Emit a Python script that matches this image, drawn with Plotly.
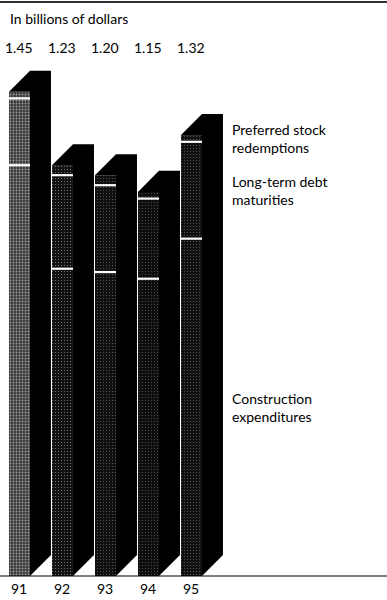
import plotly.graph_objects as go

# Data (billions of dollars)
years = ["91", "92", "93", "94", "95"]
construction = [1.23, 0.92, 0.91, 0.89, 1.01]
debt = [0.20, 0.28, 0.26, 0.24, 0.29]
preferred = [0.02, 0.03, 0.03, 0.02, 0.02]
totals = [1.45, 1.23, 1.20, 1.15, 1.32]

segment_names = ["Construction<br>expenditures",
                 "Long-term debt<br>maturities",
                 "Preferred stock<br>redemptions"]

# Geometry in axis units
W = 0.488          # front-face width (x units)
DX = 0.488         # depth offset along x
DY = 0.063         # depth offset along y (billions)
FONT = "Lato"

xs = list(range(len(years)))
segments = [construction, debt, preferred]

fig = go.Figure()

# Front faces: stacked bars with a light speckle over a dark fill
face = ["#3a3a3a", "#121212", "#101010", "#0e0e0e", "#111111"]
sol = [0.3, 0.1, 0.08, 0.07, 0.08]
base = [0.0] * len(xs)
for seg in segments:
    fig.add_trace(go.Bar(
        x=xs, y=seg, base=base[:], width=W, offset=0,
        marker=dict(color=face, line=dict(width=0),
                    pattern=dict(shape=".", fgcolor="#d0d0d0", fgopacity=0.5,
                                 size=3, solidity=sol, fillmode="overlay")),
        showlegend=False, hoverinfo="skip"))
    base = [b + v for b, v in zip(base, seg)]

# Top and side faces of each block
px, py = [], []
for i, t in zip(xs, totals):
    px += [i, i + DX, i + W + DX, i + W + DX, i + W, i + W, i, None]
    py += [t, t + DY, t + DY, DY, 0, t, t, None]
fig.add_trace(go.Scatter(x=px, y=py, mode="lines", fill="toself",
                         fillcolor="black", line=dict(width=0, color="black"),
                         showlegend=False, hoverinfo="skip"))

# White dividers between stacked segments
lx, ly = [], []
cum = [0.0] * len(xs)
for seg in segments[:-1]:
    cum = [c + v for c, v in zip(cum, seg)]
    for i, c in zip(xs, cum):
        lx += [i, i + W, None]
        ly += [c, c, None]
fig.add_trace(go.Scatter(x=lx, y=ly, mode="lines",
                         line=dict(color="white", width=2.2),
                         showlegend=False, hoverinfo="skip"))

ann = []
# Totals above the bars
for i, t in zip(xs, totals):
    ann.append(dict(x=i + W / 2, y=1 - 48 / 600, xref="x", yref="paper",
                    text=f"{t:.2f}", showarrow=False, xanchor="center",
                    yanchor="middle", font=dict(size=14, color="black", family=FONT)))
# Year labels
for i, yr in zip(xs, years):
    ann.append(dict(x=i, y=1 - 588 / 600, xref="x", yref="paper",
                    text=yr, showarrow=False, xanchor="left",
                    yanchor="middle", font=dict(size=14, color="black", family=FONT)))
# Segment labels beside the last bar
last = xs[-1]
b = 0.0
for name, seg in zip(segment_names, segments):
    v = seg[last]
    ann.append(dict(x=last + 1.14, y=b + v / 2, xref="x", yref="y",
                    text=name, showarrow=False, xanchor="left", align="left",
                    yanchor="middle", font=dict(size=14, color="black", family=FONT)))
    b += v
# Unit note
ann.append(dict(x=8 / 387, y=1 - 19 / 600, xref="paper", yref="paper",
                text="In billions of dollars", showarrow=False, xanchor="left",
                yanchor="middle", font=dict(size=14, color="black", family=FONT)))

shapes = [
    dict(type="line", xref="paper", yref="paper", x0=0, x1=1,
         y0=1 - 2 / 600, y1=1 - 2 / 600, line=dict(color="#333333", width=2)),
    dict(type="line", xref="paper", yref="y", x0=0, x1=1, y0=0, y1=0,
         line=dict(color="black", width=1.2)),
]

PXU = 43.0     # pixels per category step
PYU = 334.0    # pixels per billion
fig.update_layout(
    width=387, height=600,
    margin=dict(l=0, r=0, t=0, b=0),
    paper_bgcolor="white", plot_bgcolor="white",
    barmode="overlay",
    xaxis=dict(range=[-9 / PXU, (387 - 9) / PXU], visible=False, fixedrange=True),
    yaxis=dict(range=[-24 / PYU, 576 / PYU], visible=False, fixedrange=True),
    annotations=ann, shapes=shapes,
)

fig.write_html("out.html")
